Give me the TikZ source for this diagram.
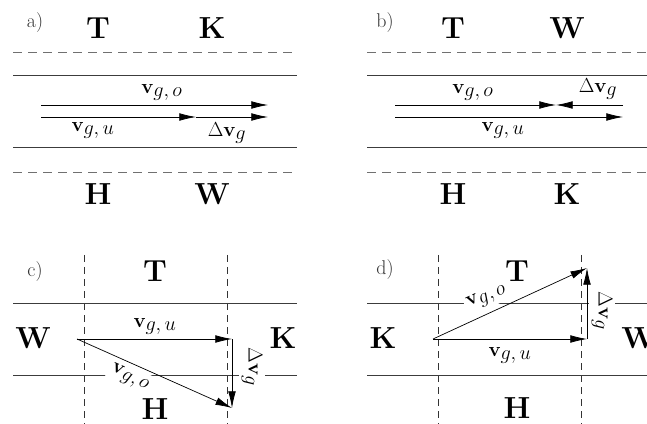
\documentclass[tikz,border=0pt]{standalone}
\usetikzlibrary{arrows.meta,positioning}
\definecolor{lnSolid}{HTML}{3C3C3C}
\definecolor{lnDash} {HTML}{707070}
\definecolor{lbInk}  {HTML}{333333}
\newcommand{\vgas}[1]{\mathbf{v}_{\textstyle g,#1}}
\newcommand{\dvg}{\Delta\mathbf{v}_{\textstyle g}}
\tikzset{
  zone/.style={font=\fontsize{26}{30}\selectfont\bfseries,inner sep=0pt},
  tag/.style={font=\fontsize{17}{20}\selectfont,text=lbInk,inner sep=0pt},
  vlab/.style={font=\LARGE,fill=white,inner sep=1.5pt},
  vec/.style={-{Latex[length=5mm,width=2.3mm]},line width=0.6pt},
  wall/.style={draw=lnSolid,line width=0.6pt},
  front/.style={draw=lnDash,line width=0.6pt,dash pattern=on 2.7mm off 1.8mm},
  split/.style={draw=black!80,line width=0.5pt,dash pattern=on 2.1mm off 1.5mm},
}

\begin{document}
\begin{tikzpicture}[x=0.3mm,y=-0.3mm]
  \useasboundingbox (0,0) rectangle (647,424);

  % ---- a)
  \node[tag]  (a-tag) at (35,23)  {a)};
  \node[zone] (a-T)   at (98,28)  {T};
  \node[zone] (a-K)   at (212,28) {K};
  \node[zone] (a-H)   at (98,194) {H};
  \node[zone] (a-W)   at (212,194) {W};
  \draw[front] (13,52) -- (297,52);
  \draw[wall]  (13,75) -- (297,75);
  \draw[wall]  (13,147) -- (297,147);
  \draw[front] (13,172) -- (297,172);
  \coordinate (a-o0) at (41,105);  \coordinate (a-o1) at (268,105);
  \coordinate (a-u0) at (41,117);  \coordinate (a-u1) at (196,117);
  \coordinate (a-d1) at (268,117);
  \node[vlab] (a-vo) at (162,92)  {$\vgas{o}$};
  \node[vlab] (a-vu) at (93,130)  {$\vgas{u}$};
  \node[vlab] (a-dv) at (227,133) {$\dvg$};
  \draw[vec] (a-o0) -- (a-o1);
  \draw[vec] (a-u0) -- (a-u1);
  \draw[vec] (a-u1) -- (a-d1);

  % ---- b)
  \node[tag]  (b-tag) at (385,23)  {b)};
  \node[zone] (b-T)   at (453,28)  {T};
  \node[zone] (b-W)   at (567,28)  {W};
  \node[zone] (b-H)   at (453,194) {H};
  \node[zone] (b-K)   at (567,194) {K};
  \draw[front] (367,52) -- (647,52);
  \draw[wall]  (367,75) -- (647,75);
  \draw[wall]  (367,147) -- (647,147);
  \draw[front] (367,172) -- (647,172);
  \coordinate (b-o0) at (395,105);  \coordinate (b-m) at (556,105);
  \coordinate (b-o1) at (623,105);
  \coordinate (b-u0) at (395,117);  \coordinate (b-u1) at (623,117);
  \node[vlab] (b-vo) at (473,92)  {$\vgas{o}$};
  \node[vlab] (b-dv) at (598,89)  {$\dvg$};
  \node[vlab] (b-vu) at (503,130) {$\vgas{u}$};
  \draw[vec] (b-o0) -- (b-m);
  \draw[vec] (b-o1) -- (b-m);
  \draw[vec] (b-u0) -- (b-u1);

  % ---- c)
  \node[tag]  (c-tag) at (35,272)  {c)};
  \node[zone] (c-T)   at (155,271) {T};
  \node[zone] (c-W)   at (33,338)  {W};
  \node[zone] (c-K)   at (283,338) {K};
  \node[zone] (c-H)   at (155,409) {H};
  \draw[split] (84,255) -- (84,424);
  \draw[split] (227,255) -- (227,424);
  \draw[wall]  (13,303) -- (297,303);
  \draw[wall]  (13,375) -- (297,375);
  \coordinate (c-0) at (77,339);  \coordinate (c-1) at (232,339);
  \coordinate (c-2) at (232,408);
  \node[vlab] (c-vu) at (155,326) {$\vgas{u}$};
  \node[vlab,rotate=-24,inner sep=2.5pt] (c-vo) at (130,378) {$\vgas{o}$};
  \node[vlab,rotate=-90,inner sep=2.5pt] (c-dv) at (252,367) {$\dvg$};
  \draw[vec] (c-0) -- (c-1);
  \draw[vec] (c-0) -- (c-2);
  \draw[vec] (c-1) -- (c-2);

  % ---- d)
  \node[tag]  (d-tag) at (385,270) {d)};
  \node[zone] (d-T)   at (517,271) {T};
  \node[zone] (d-K)   at (383,338) {K};
  \node[zone] (d-W)   at (639,338) {W};
  \node[zone] (d-H)   at (517,408) {H};
  \draw[split] (438,255) -- (438,424);
  \draw[split] (581,255) -- (581,424);
  \draw[wall]  (367,303) -- (647,303);
  \draw[wall]  (367,375) -- (647,375);
  \coordinate (d-0) at (433,339);  \coordinate (d-1) at (587,339);
  \coordinate (d-2) at (587,268);
  \node[vlab] (d-vu) at (510,355) {$\vgas{u}$};
  \node[vlab,rotate=25,inner sep=2.5pt] (d-vo) at (487,297) {$\vgas{o}$};
  \node[vlab,rotate=-90,inner sep=2.5pt] (d-dv) at (602,311) {$\dvg$};
  \draw[vec] (d-0) -- (d-1);
  \draw[vec] (d-0) -- (d-2);
  \draw[vec] (d-1) -- (d-2);
\end{tikzpicture}
\end{document}
